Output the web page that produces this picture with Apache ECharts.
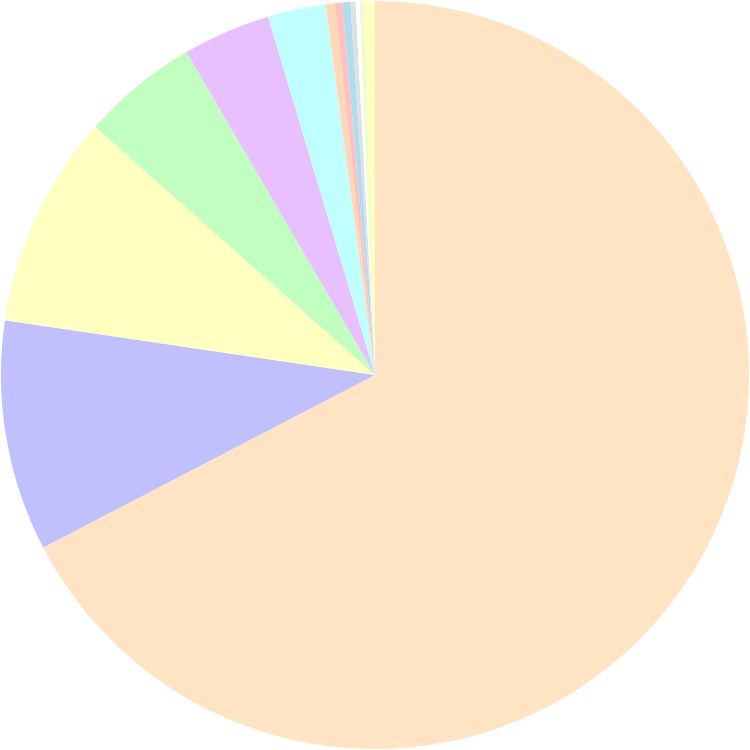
<!DOCTYPE html>
<html>
<head>
<meta charset="utf-8">
<script src="https://cdn.jsdelivr.net/npm/echarts@6/dist/echarts.min.js"></script>
<style>html,body{margin:0;padding:0;background:#fff}#c{width:750px;height:750px}</style>
</head>
<body>
<div id="c"></div>
<script>
const categories = ['A','B','C','D','E','F','G','H','I','J','K','L','M'];
const values = [67.41, 9.97, 9.22, 5.04, 3.80, 2.51, 0.40, 0.31, 0.35, 0.22, 0.175, 0.175, 0.48];
const colors = ['#ffe4c4','#c0c0ff','#ffffc0','#c0ffc0','#e8c0ff','#c0ffff','#ffd8b8','#ffc0c0','#b0dcf0','#e0e0e0','#ffffff','#e8ffd0','#ffffc0'];

const chart = echarts.init(document.getElementById('c'));
chart.setOption({
  animation: false,
  backgroundColor: '#ffffff',
  series: [{
    type: 'pie',
    center: [375, 375],
    radius: [0, 374],
    startAngle: 90,
    clockwise: true,
    label: {show: false},
    labelLine: {show: false},
    itemStyle: {borderWidth: 0},
    emphasis: {disabled: true},
    data: categories.map((c, i) => ({name: c, value: values[i], itemStyle: {color: colors[i]}}))
  }]
});
</script>
</body>
</html>
